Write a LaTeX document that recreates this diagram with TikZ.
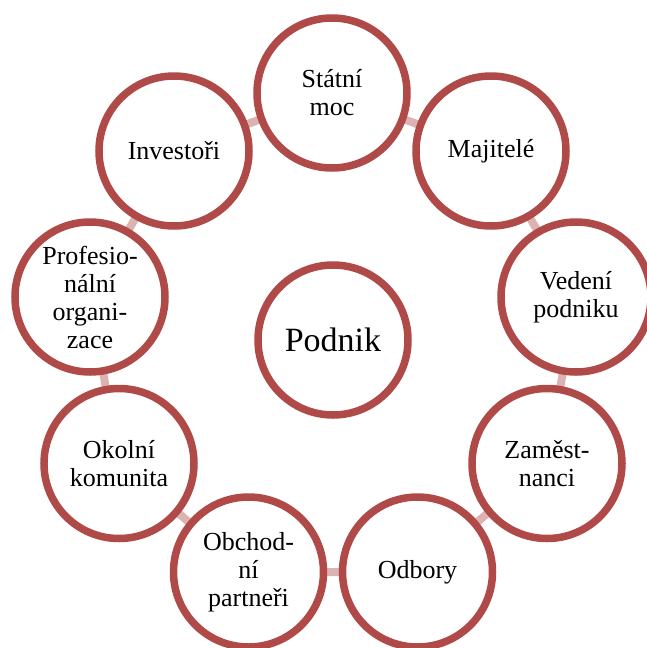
\documentclass[tikz,border=0pt]{standalone}
\usepackage{fontspec}
\setmainfont{Liberation Serif}
\definecolor{ringred}{HTML}{B04A48}
\definecolor{linkpink}{HTML}{DDB3B2}
\begin{document}
\begin{tikzpicture}[x=1pt,y=-1pt,
  ringnode/.style={circle,draw=ringred,line width=7.5pt,fill=white,minimum size=150pt,inner sep=0pt,align=center,font=\fontsize{26}{28}\selectfont},
  link/.style={draw=linkpink,line width=8pt}]
\useasboundingbox (0,0) rectangle (646,648);
% connectors (drawn first, behind the circles)
\coordinate (sc) at (332,93);
\coordinate (mc) at (491,151);
\coordinate (vc) at (576,297);
\coordinate (zc) at (547,463.5);
\coordinate (oc) at (417.5,572);
\coordinate (pc) at (248.5,572);
\coordinate (kc) at (119,463.5);
\coordinate (rc) at (90,297);
\coordinate (ic) at (174,151);
\draw[link] (sc) -- (mc) -- (vc) -- (zc) -- (oc) -- (pc) -- (kc) -- (rc) -- (ic) -- (sc);
% circles
\node[ringnode] (s) at (sc) {Státní\\moc};
\node[ringnode] (m) at (mc) {Majitelé};
\node[ringnode] (v) at (vc) {Vedení\\podniku};
\node[ringnode] (z) at (zc) {Zaměst-\\nanci};
\node[ringnode] (o) at (oc) {Odbory};
\node[ringnode] (p) at (pc) {Obchod-\\ní\\partneři};
\node[ringnode] (k) at (kc) {Okolní\\komunita};
\node[ringnode] (r) at (rc) {Profesio-\\nální\\organi-\\zace};
\node[ringnode] (i) at (ic) {Investoři};
\node[ringnode,font=\fontsize{34}{38}\selectfont] (c) at (333,340) {Podnik};
\end{tikzpicture}
\end{document}
